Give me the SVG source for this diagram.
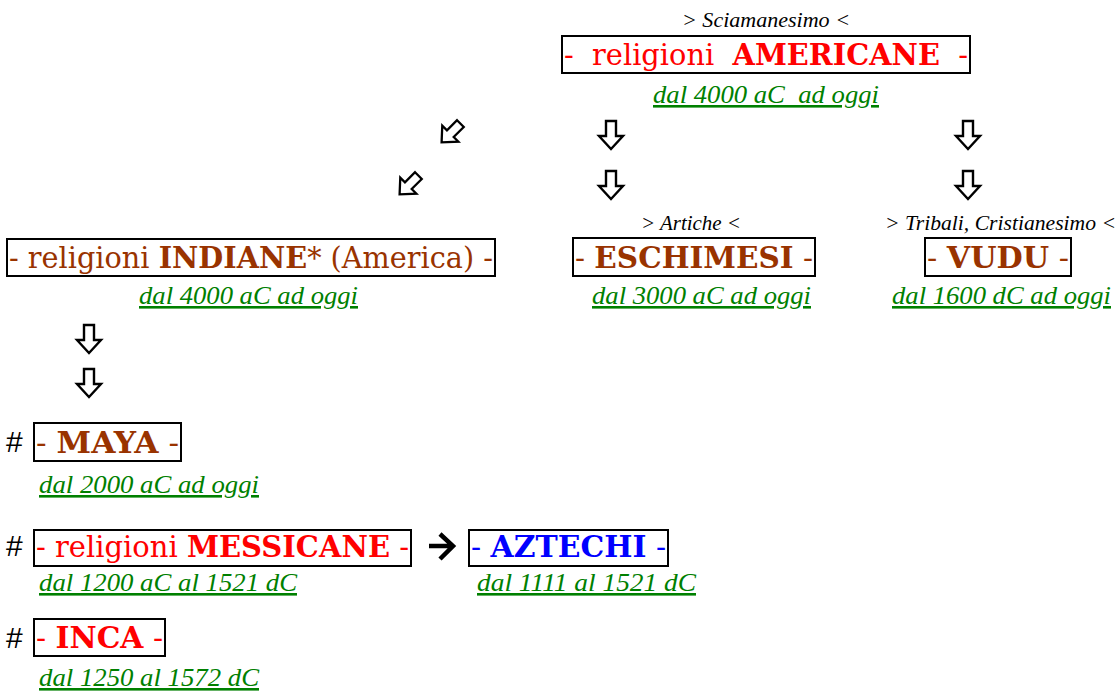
<svg xmlns="http://www.w3.org/2000/svg" width="1120" height="693" viewBox="0 0 1120 693">
<style>
.bx{fill:none;stroke:#000;stroke-width:2}
.lb{font-family:"DejaVu Serif",serif;font-size:29px;white-space:pre}
.b{font-weight:bold}
.red{fill:#FF0000}.brn{fill:#993300}.blu{fill:#0000FF}
.dt{font-family:"Liberation Serif",serif;font-style:italic;font-size:26px;fill:#008000;text-decoration:underline;white-space:pre}
.nt{font-family:"Liberation Serif",serif;font-style:italic;font-size:20px;fill:#000}
.hs{font-family:"Liberation Sans",sans-serif;font-size:30px;fill:#000}
.ar{fill:#fff;stroke:#000;stroke-width:2.4;stroke-linejoin:miter}
</style>
<defs>
<path id="dn" class="ar" d="M-5,-14 H5 V1 H12 L0,14 L-12,1 H-5 Z"/>
</defs>
<g id="americane">
<text class="nt" x="682" y="27" textLength="168" lengthAdjust="spacingAndGlyphs">&gt; Sciamanesimo &lt;</text>
<rect class="bx" x="562" y="36" width="408" height="37"/>
<text class="lb red" x="564" y="65" textLength="404" lengthAdjust="spacingAndGlyphs">-  religioni  <tspan class="b">AMERICANE</tspan>  -</text>
<text class="dt" x="653" y="103" textLength="226" lengthAdjust="spacingAndGlyphs">dal 4000 aC  ad oggi</text>
</g>
<g id="indiane">
<rect class="bx" x="7" y="239" width="488" height="37"/>
<text class="lb brn" x="9" y="268" textLength="484" lengthAdjust="spacingAndGlyphs">- religioni <tspan class="b">INDIANE</tspan>* (America) -</text>
<text class="dt" x="139" y="304" textLength="219" lengthAdjust="spacingAndGlyphs">dal 4000 aC ad oggi</text>
</g>
<g id="eschimesi">
<text class="nt" x="641" y="230" textLength="100" lengthAdjust="spacingAndGlyphs">&gt; Artiche &lt;</text>
<rect class="bx" x="573" y="238" width="242" height="38"/>
<text class="lb brn" x="575" y="268" textLength="238" lengthAdjust="spacingAndGlyphs">- <tspan class="b">ESCHIMESI</tspan> -</text>
<text class="dt" x="592" y="304" textLength="219" lengthAdjust="spacingAndGlyphs">dal 3000 aC ad oggi</text>
</g>
<g id="vudu">
<text class="nt" x="885" y="230" textLength="231" lengthAdjust="spacingAndGlyphs">&gt; Tribali, Cristianesimo &lt;</text>
<rect class="bx" x="925" y="238" width="146" height="38"/>
<text class="lb brn" x="927" y="268" textLength="142" lengthAdjust="spacingAndGlyphs">- <tspan class="b">VUDU</tspan> -</text>
<text class="dt" x="892" y="304" textLength="219" lengthAdjust="spacingAndGlyphs">dal 1600 dC ad oggi</text>
</g>
<g id="maya">
<text class="hs" x="6" y="452">#</text>
<rect class="bx" x="34" y="423" width="147" height="38"/>
<text class="lb brn" x="36" y="453" textLength="143" lengthAdjust="spacingAndGlyphs">- <tspan class="b">MAYA</tspan> -</text>
<text class="dt" x="39" y="493" textLength="220" lengthAdjust="spacingAndGlyphs">dal 2000 aC ad oggi</text>
</g>
<g id="messicane">
<text class="hs" x="6" y="556">#</text>
<rect class="bx" x="34" y="530" width="377" height="36"/>
<text class="lb red" x="36" y="557" textLength="373" lengthAdjust="spacingAndGlyphs">- religioni <tspan class="b">MESSICANE</tspan> -</text>
<text class="dt" x="39" y="591" textLength="258" lengthAdjust="spacingAndGlyphs">dal 1200 aC al 1521 dC</text>
</g>
<g id="aztechi">
<rect class="bx" x="469" y="530" width="199" height="36"/>
<text class="lb blu" x="471" y="557" textLength="195" lengthAdjust="spacingAndGlyphs">- <tspan class="b">AZTECHI</tspan> -</text>
<text class="dt" x="477" y="591" textLength="219" lengthAdjust="spacingAndGlyphs">dal 1111 al 1521 dC</text>
</g>
<g id="inca">
<text class="hs" x="6" y="648">#</text>
<rect class="bx" x="34" y="619" width="131" height="37"/>
<text class="lb red" x="36" y="648" textLength="127" lengthAdjust="spacingAndGlyphs">- <tspan class="b">INCA</tspan> -</text>
<text class="dt" x="39" y="686" textLength="220" lengthAdjust="spacingAndGlyphs">dal 1250 al 1572 dC</text>
</g>
<g id="connectors">
<use href="#dn" transform="translate(451,133) rotate(45) scale(0.95)"/>
<use href="#dn" transform="translate(409,185) rotate(45) scale(0.95)"/>
<use href="#dn" transform="translate(611,135)"/>
<use href="#dn" transform="translate(611,185)"/>
<use href="#dn" transform="translate(968,135)"/>
<use href="#dn" transform="translate(968,185)"/>
<use href="#dn" transform="translate(89,339)"/>
<use href="#dn" transform="translate(89,383)"/>
<path d="M429,546 H452 M440,534 L453,546 L440,559" fill="none" stroke="#000" stroke-width="4.5"/>
</g>
</svg>
